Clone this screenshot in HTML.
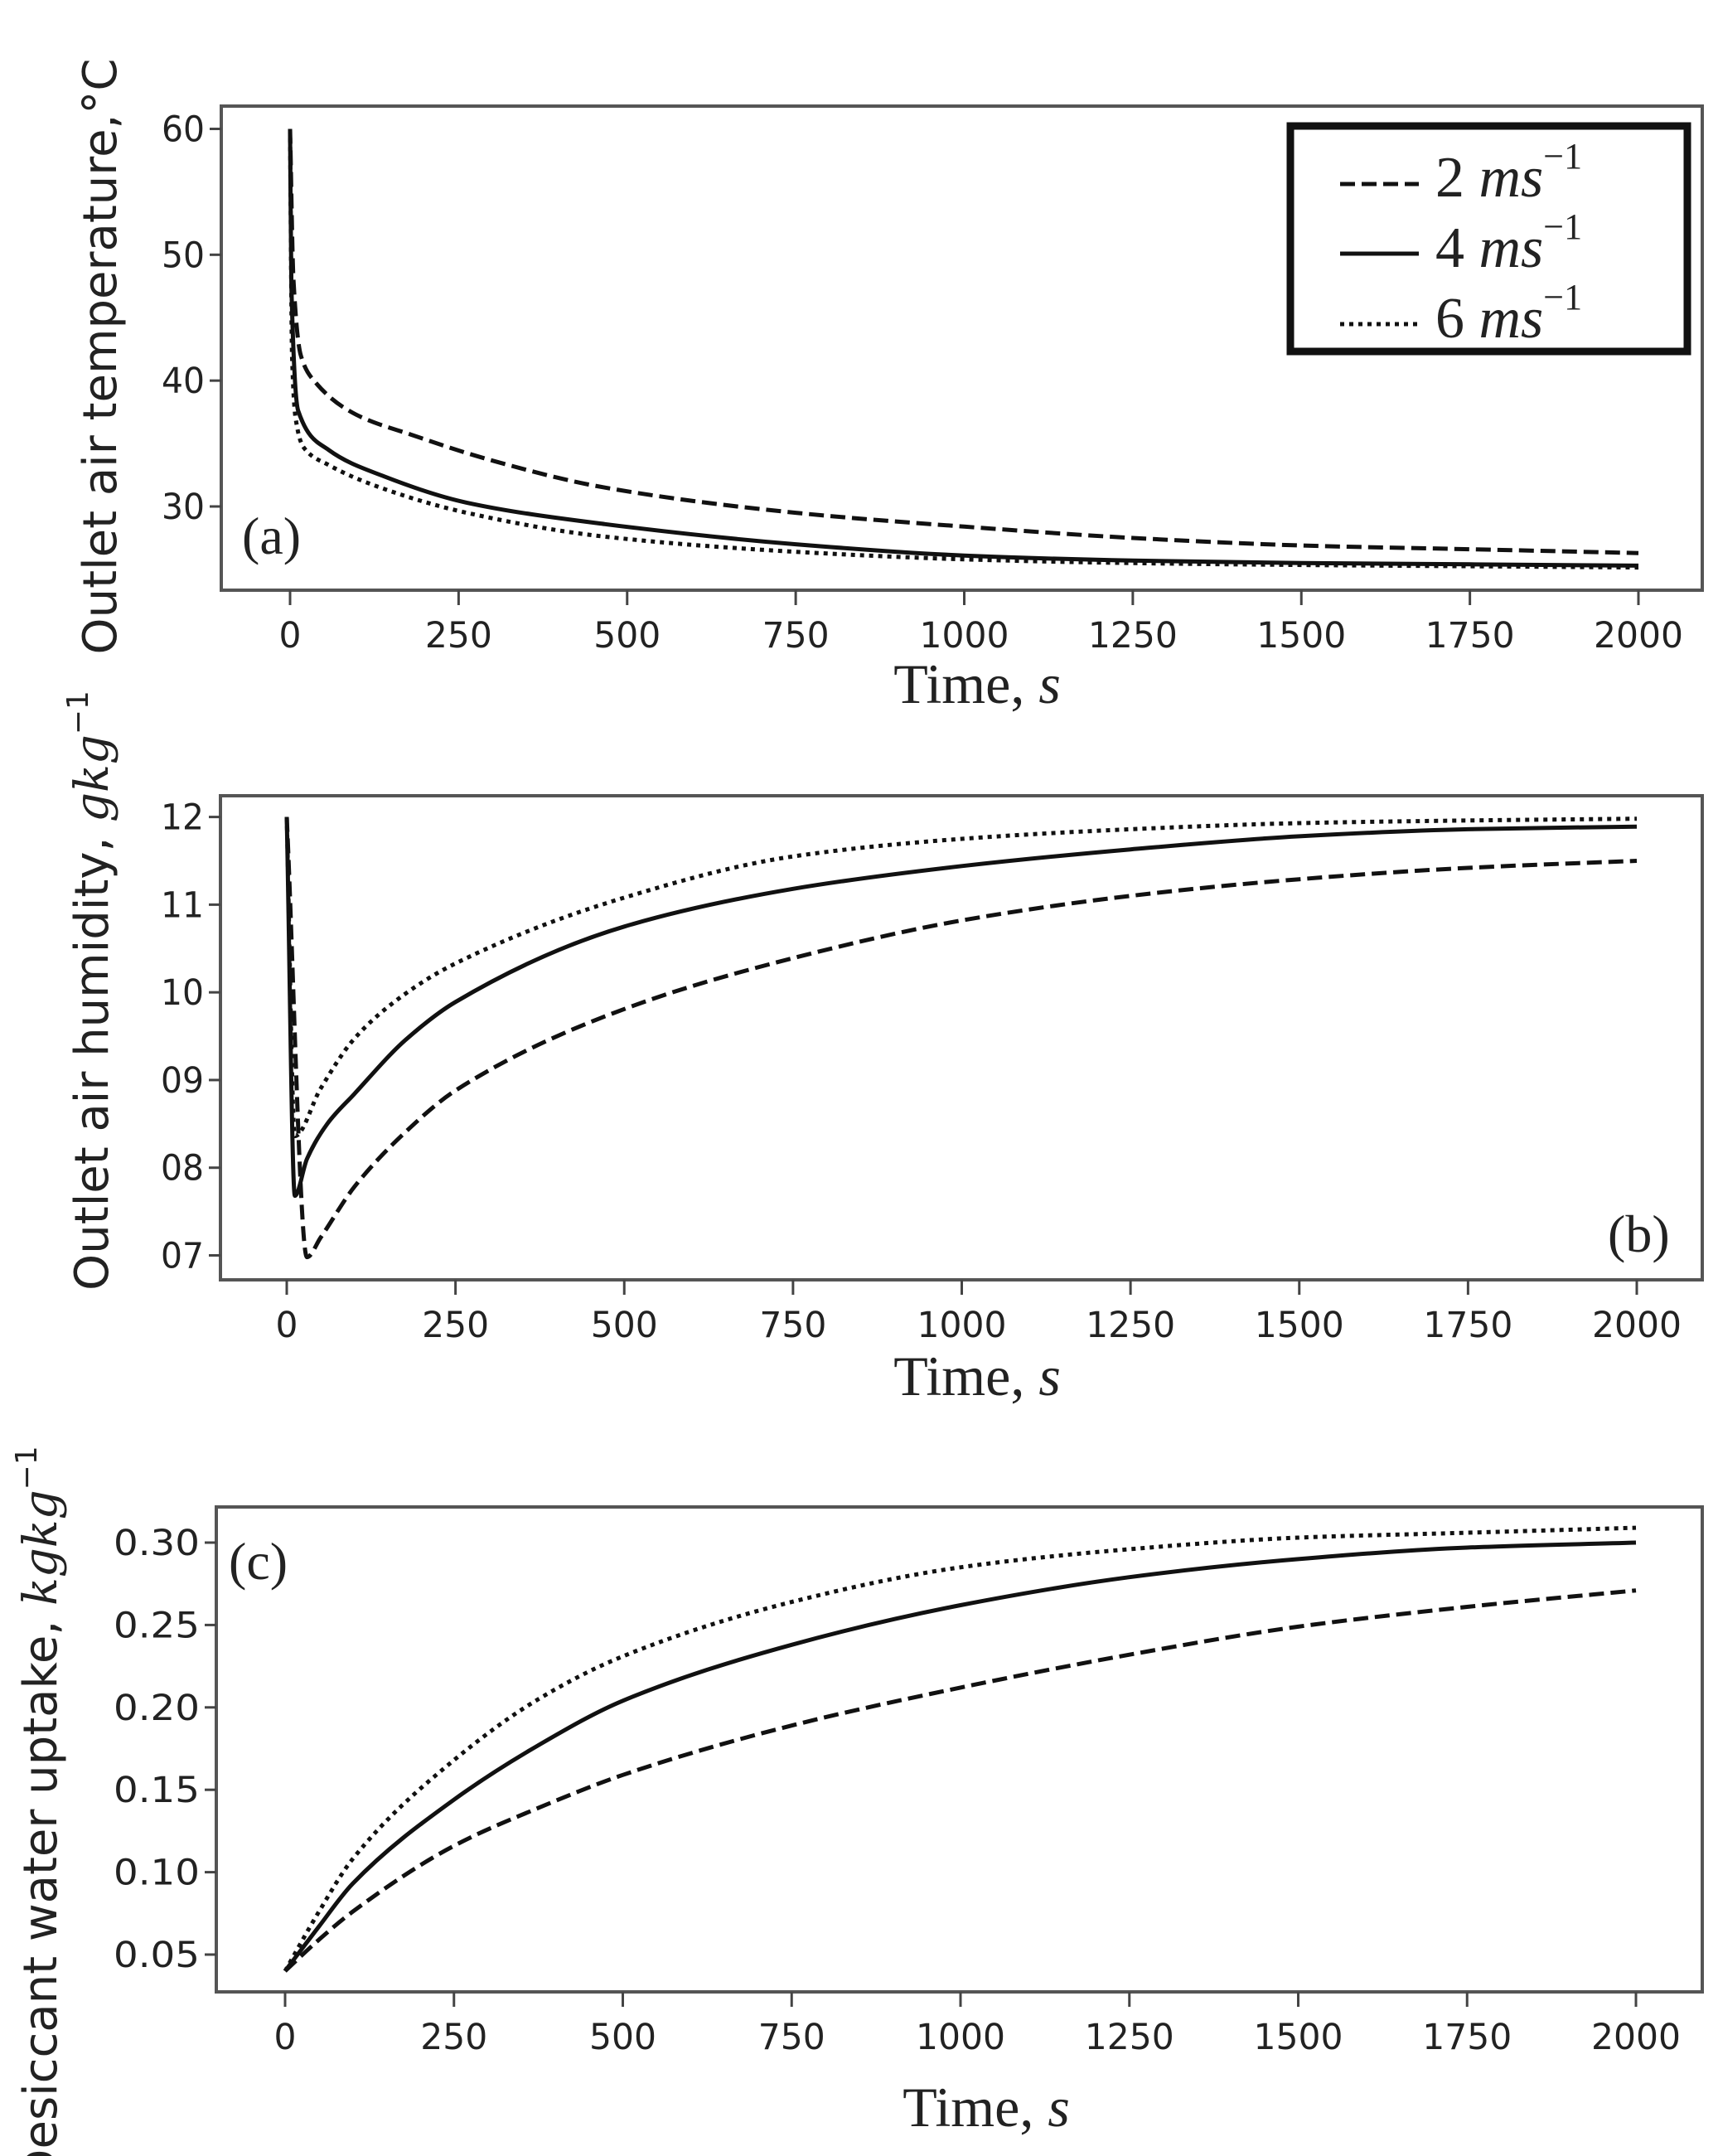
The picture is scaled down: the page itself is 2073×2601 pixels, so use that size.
<!DOCTYPE html>
<html><head><meta charset="utf-8"><style>
html,body{margin:0;padding:0;background:#fff}
svg{display:block}
</style></head><body>
<svg id="fig" xmlns="http://www.w3.org/2000/svg" width="2073" height="2601" viewBox="0 0 2073 2601">
<rect x="0" y="0" width="2073" height="2601" fill="#fff"/>
<g id="layer"></g>
<g id="legend">
  <rect x="1557" y="152" width="479" height="272" fill="#fff" stroke="#111" stroke-width="9"/>
  <line x1="1617" y1="222" x2="1712" y2="222" stroke="#111" stroke-width="5" stroke-dasharray="18,8"/>
  <line x1="1617" y1="306" x2="1712" y2="306" stroke="#111" stroke-width="5"/>
  <line x1="1617" y1="391" x2="1712" y2="391" stroke="#111" stroke-width="5" stroke-dasharray="5,6"/>
  <text x="1732" y="237" font-family="Liberation Serif, serif" font-size="70" fill="#222">2 <tspan font-style="italic">ms</tspan><tspan font-size="44" dy="-34">−1</tspan></text>
  <text x="1732" y="322" font-family="Liberation Serif, serif" font-size="70" fill="#222">4 <tspan font-style="italic">ms</tspan><tspan font-size="44" dy="-34">−1</tspan></text>
  <text x="1732" y="407" font-family="Liberation Serif, serif" font-size="70" fill="#222">6 <tspan font-style="italic">ms</tspan><tspan font-size="44" dy="-34">−1</tspan></text>
</g>
</svg>
<script>
// shared x data
const xTicks = [0,250,500,750,1000,1250,1500,1750,2000];
// Panel (a) outlet air temperature
const tA2 = [0,5,16,37,98,180,303,467,750,1000,1250,1500,1750,2000];
const tempA2 = [60,48,42,39.9,37.3,35.7,33.6,31.5,29.5,28.4,27.5,26.9,26.6,26.3];
const tA4 = [0,2,12,57,139,262,467,750,1000,1250,1500,1750,2000];
const tempA4 = [60,47.5,37.6,34.5,32.4,30.3,28.6,27.0,26.1,25.7,25.5,25.4,25.3];
const tA6 = [0,3,8,20,57,139,262,467,750,1000,1250,1500,1750,2000];
const tempA6 = [60,42,37.1,34.7,33.3,31.4,29.5,27.6,26.4,25.8,25.5,25.35,25.25,25.15];
const yTicksA = [30,40,50,60];
const yLabelsA = ["30","40","50","60"];
// Panel (b) outlet air humidity
const tB2 = [0,30,50,100,175,250,500,750,1000,1250,1500,1750,2000];
const humB2 = [12,6.98,7.2,7.78,8.4,8.88,9.81,10.39,10.82,11.1,11.29,11.42,11.5];
const tB4 = [0,12,30,60,100,175,250,500,750,1000,1250,1500,1750,2000];
const humB4 = [12,7.68,8.1,8.5,8.84,9.45,9.89,10.75,11.18,11.44,11.63,11.78,11.86,11.89];
const tB6 = [0,12,50,100,175,250,500,750,1000,1250,1500,1750,2000];
const humB6 = [12,8.36,8.9,9.47,9.98,10.33,11.08,11.55,11.75,11.86,11.93,11.96,11.98];
const yTicksB = [7,8,9,10,11,12];
const yLabelsB = ["07","08","09","10","11","12"];
// Panel (c) desiccant water uptake
const tC = [0,50,100,250,375,500,750,1000,1250,1500,1750,2000];
const upC2 = [0.04,0.059,0.076,0.116,0.139,0.159,0.189,0.212,0.232,0.249,0.261,0.271];
const upC4 = [0.04,0.067,0.093,0.144,0.177,0.204,0.238,0.262,0.279,0.290,0.297,0.300];
const upC6 = [0.04,0.076,0.108,0.168,0.205,0.231,0.264,0.285,0.296,0.303,0.306,0.309];
const yTicksC = [0.05,0.10,0.15,0.20,0.25,0.30];
const yLabelsC = ["0.05","0.10","0.15","0.20","0.25","0.30"];

const NS = "http://www.w3.org/2000/svg";
const layer = document.getElementById('layer');
function mk(tag, attrs, parent){
  const e = document.createElementNS(NS, tag);
  for (const k in attrs) e.setAttribute(k, attrs[k]);
  (parent||layer).appendChild(e);
  return e;
}
const DASH = {d:"18,8", s:"none", o:"5,6"};

function monoPath(P){
  const n = P.length;
  if (n < 3) return P.map((p,i)=>(i?'L':'M')+p[0]+','+p[1]).join(' ');
  const dx=[], s=[];
  for (let i=0;i<n-1;i++){ dx[i]=P[i+1][0]-P[i][0]; s[i]=(P[i+1][1]-P[i][1])/dx[i]; }
  const m=[s[0]];
  for (let i=1;i<n-1;i++){
    if (s[i-1]*s[i] <= 0) m[i]=0;
    else { const w1=2*dx[i]+dx[i-1], w2=dx[i]+2*dx[i-1]; m[i]=(w1+w2)/(w1/s[i-1]+w2/s[i]); }
  }
  m[n-1]=s[n-2];
  let d='M'+P[0][0].toFixed(1)+','+P[0][1].toFixed(1);
  for (let i=0;i<n-1;i++){
    const h=dx[i]/3;
    d+=' C'+(P[i][0]+h).toFixed(1)+','+(P[i][1]+m[i]*h).toFixed(1)+' '+(P[i+1][0]-h).toFixed(1)+','+(P[i+1][1]-m[i+1]*h).toFixed(1)+' '+P[i+1][0].toFixed(1)+','+P[i+1][1].toFixed(1);
  }
  return d;
}

function panel(cfg){
  const g = mk('g', {});
  
  
  const xs = v => cfg.x0 + (v/2000)*(cfg.x2000 - cfg.x0);
  const ys = v => cfg.yA + (v - cfg.vA)/(cfg.vB - cfg.vA)*(cfg.yB - cfg.yA);
  const frame = mk('rect', {x:cfg.L, y:cfg.T, width:cfg.R-cfg.L, height:cfg.B-cfg.T, fill:'none', stroke:'#555', 'stroke-width':4}, g);
  
  
  xTicks.forEach(v => {
    const x = xs(v);
    const tk = mk('line', {x1:x, x2:x, y1:cfg.B, y2:cfg.B+18, stroke:'#444', 'stroke-width':3}, g);
    
    
    const lb = mk('text', {x:x, y:cfg.B+69, 'text-anchor':'middle', 'font-family':'DejaVu Sans, sans-serif', 'font-size':43, fill:'#222', textLength: String(v).length*27, lengthAdjust:'spacingAndGlyphs'}, g);
    lb.textContent = String(v);
    
    
  });
  cfg.yTicks.forEach((v,i) => {
    const y = ys(v);
    const tk = mk('line', {x1:cfg.L-14, x2:cfg.L, y1:y, y2:y, stroke:'#444', 'stroke-width':3}, g);
    
    
    const lb = mk('text', {x:cfg.L-20, y:y+15, 'text-anchor':'end', 'font-family':'DejaVu Sans, sans-serif', 'font-size':43, fill:'#222', textLength: cfg.yLabels[i].length*26, lengthAdjust:'spacingAndGlyphs'}, g);
    lb.textContent = cfg.yLabels[i];
    
    
  });
  cfg.series.forEach(s => {
    const pts = s.t.map((t,i) => [xs(t), ys(s.v[i])]);
    const p = mk('path', {d:monoPath(pts), fill:'none', stroke:'#111', 'stroke-width':5, 'stroke-linejoin':'round', 'stroke-dasharray':DASH[s.style]}, g);
    
    
  });
  const xt = mk('text', {x:cfg.xtX, y:cfg.xtY, 'text-anchor':'middle', 'font-family':'Liberation Serif, serif', 'font-size':68, fill:'#222'}, g);
  xt.innerHTML = 'Time, <tspan font-style="italic">s</tspan>';
  
  
  const yt = mk('text', {x:0, y:0, 'text-anchor':'middle', 'font-family':'DejaVu Sans, sans-serif', 'font-size':56, fill:'#222', transform:`translate(${cfg.ytX},${cfg.ytY}) rotate(-90)`}, g);
  yt.innerHTML = cfg.ytHTML;
  
  
  const pl = mk('text', {x:cfg.plX, y:cfg.plY, 'font-family':'Liberation Serif, serif', 'font-size':64, fill:'#222'}, g);
  pl.textContent = cfg.plText;
  
  
}

panel({name:'panel-a-temperature', L:267,R:2054,T:128,B:712, x0:350,x2000:1977, vA:60,yA:155.5, vB:30,yB:611,
  yTicks:yTicksA, yLabels:yLabelsA,
  series:[{name:'line-a-2ms',t:tA2,v:tempA2,style:'d'},{name:'line-a-4ms',t:tA4,v:tempA4,style:'s'},{name:'line-a-6ms',t:tA6,v:tempA6,style:'o'}],
  xtX:1179, xtY:848, ytX:140, ytY:430, ytHTML:'Outlet air temperature,°C', plX:292, plY:668, plText:'(a)'});
panel({name:'panel-b-humidity', L:266,R:2054,T:960,B:1544, x0:346,x2000:1975, vA:12,yA:985.6, vB:7,yB:1514.5,
  yTicks:yTicksB, yLabels:yLabelsB,
  series:[{name:'line-b-2ms',t:tB2,v:humB2,style:'d'},{name:'line-b-4ms',t:tB4,v:humB4,style:'s'},{name:'line-b-6ms',t:tB6,v:humB6,style:'o'}],
  xtX:1179, xtY:1683, ytX:130, ytY:1195, ytHTML:'Outlet air humidity, <tspan font-family="DejaVu Serif, serif" font-style="italic">gkg</tspan><tspan font-size="36" dy="-24">−1</tspan>', plX:1940, plY:1510, plText:'(b)'});
panel({name:'panel-c-uptake', L:261,R:2054,T:1818,B:2403, x0:344,x2000:1974, vA:0.30,yA:1861, vB:0.05,yB:2358,
  yTicks:yTicksC, yLabels:yLabelsC,
  series:[{name:'line-c-2ms',t:tC,v:upC2,style:'d'},{name:'line-c-4ms',t:tC,v:upC4,style:'s'},{name:'line-c-6ms',t:tC,v:upC6,style:'o'}],
  xtX:1190, xtY:2565, ytX:68, ytY:2190, ytHTML:'Desiccant water uptake, <tspan font-family="DejaVu Serif, serif" font-style="italic">kgkg</tspan><tspan font-size="36" dy="-24">−1</tspan>', plX:276, plY:1905, plText:'(c)'});
</script>
</body></html>
